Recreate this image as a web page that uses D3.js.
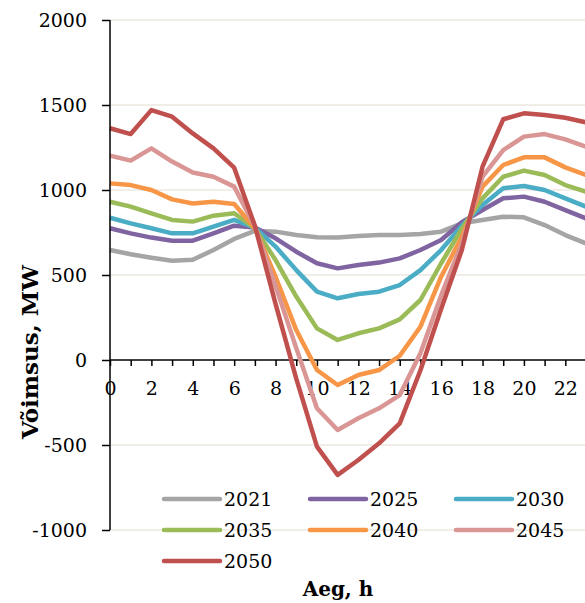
<!DOCTYPE html>
<html>
<head>
<meta charset="utf-8">
<script src="https://cdn.jsdelivr.net/npm/d3@7/dist/d3.min.js"></script>
<style>
body { margin: 0; background: #fff; }
text { font-family: "DejaVu Serif", serif; fill: #000; }
</style>
</head>
<body>
<svg id="chart" width="585" height="603"></svg>
<script>
var hours = [0,1,2,3,4,5,6,7,8,9,10,11,12,13,14,15,16,17,18,19,20,21,22,23];
var hourLabels = [0,2,4,6,8,10,12,14,16,18,20,22];
var yTicks = [-1000,-500,0,500,1000,1500,2000];

var seriesNames = ["2021","2025","2030","2035","2040","2045","2050"];
var seriesColors = ["#a5a5a5","#8064a2","#4bacc6","#9bbb59","#f79646","#d99694","#c0504d"];

var v2021 = [647,622,602,584,590,647,712,760,755,735,722,720,729,735,735,741,755,804,824,843,839,794,735,686];
var v2025 = [775,745,720,702,702,745,790,780,716,637,569,539,559,573,598,647,706,810,882,951,961,931,882,833];
var v2030 = [837,804,775,745,745,784,824,778,667,529,402,363,388,402,441,529,647,790,912,1010,1024,1000,951,902];
var v2035 = [931,902,863,824,814,849,863,775,588,373,186,118,157,186,239,353,569,772,951,1078,1114,1088,1029,990];
var v2040 = [1039,1029,1000,945,921,931,918,775,490,176,-59,-147,-88,-59,25,196,490,725,1020,1147,1192,1192,1133,1088];
var v2045 = [1202,1173,1245,1167,1103,1078,1020,785,435,70,-284,-412,-343,-284,-206,40,380,686,1078,1235,1314,1329,1298,1255];
var v2050 = [1363,1329,1470,1431,1333,1245,1131,790,330,-110,-510,-676,-588,-490,-373,-60,300,647,1137,1416,1451,1441,1425,1398];

var seriesValues = [v2021, v2025, v2030, v2035, v2040, v2045, v2050];

var margin = {left: 110, right: 586, top: 20, bottom: 530};
var gridColor = "#ebe8de";

var svg = d3.select("#chart");

// Scales ====================================================================

var xScale = d3.scaleLinear()
	.domain([0, 23])
	.range([margin.left, margin.right]);

var yScale = d3.scaleLinear()
	.domain([-1000, 2000])
	.range([margin.bottom, margin.top]);

// Grid ======================================================================

svg.append("g")
	.attr("class", "grid")
	.selectAll("line")
	.data(yTicks.filter(function(d) { return d !== 0 }))
	.enter()
	.append("line")
	.attr("x1", margin.left)
	.attr("x2", 585)
	.attr("y1", function(d) { return yScale(d) })
	.attr("y2", function(d) { return yScale(d) })
	.attr("stroke", gridColor)
	.attr("stroke-width", 1.5);

// Axes ======================================================================

var yAxis = d3.axisLeft(yScale)
	.tickValues(yTicks)
	.tickSize(8)
	.tickPadding(15)
	.tickFormat(function(d) { return String(d) });

var yG = svg.append("g")
	.attr("class", "y-axis")
	.attr("transform", "translate(" + margin.left + ",0)")
	.call(yAxis);
yG.select(".domain").remove();
yG.selectAll(".tick line").attr("stroke", "#000").attr("stroke-width", 1.5);
yG.selectAll(".tick text").attr("font-size", 19).attr("font-family", "DejaVu Serif").attr("fill", "#000");

var xAxis = d3.axisBottom(xScale)
	.tickValues(hours)
	.tickSize(6)
	.tickPadding(16)
	.tickFormat(function(d) { return hourLabels.indexOf(d) >= 0 ? d : "" });

var xG = svg.append("g")
	.attr("class", "x-axis")
	.attr("transform", "translate(0," + yScale(0) + ")")
	.call(xAxis);
xG.select(".domain").remove();
xG.selectAll(".tick line").attr("stroke", "#000").attr("stroke-width", 1.5);
xG.selectAll(".tick text").attr("font-size", 19).attr("font-family", "DejaVu Serif").attr("fill", "#000");

svg.append("line")
	.attr("x1", margin.left).attr("x2", 585)
	.attr("y1", yScale(0)).attr("y2", yScale(0))
	.attr("stroke", "#000").attr("stroke-width", 1.5);

// Lines =====================================================================

var line = d3.line()
	.x(function(d, i) { return xScale(hours[i]) })
	.y(function(d) { return yScale(d) });

svg.append("g")
	.selectAll("path")
	.data(seriesValues)
	.enter()
	.append("path")
	.attr("d", line)
	.attr("fill", "none")
	.attr("stroke", function(d, i) { return seriesColors[i] })
	.attr("stroke-width", 4.5)
	.attr("stroke-linejoin", "round");

svg.append("line")
	.attr("x1", margin.left).attr("x2", margin.left)
	.attr("y1", margin.top).attr("y2", margin.bottom)
	.attr("stroke", "#000").attr("stroke-width", 1.5);

// Legend ====================================================================

var legend = svg.append("g")
	.selectAll("g")
	.data(seriesNames)
	.enter()
	.append("g")
	.attr("transform", function(d, i) {
		return "translate(" + (164 + (i % 3) * 146) + "," + (499 + Math.floor(i / 3) * 31) + ")";
	});

legend.append("line")
	.attr("x1", 0).attr("x2", 56)
	.attr("stroke", function(d, i) { return seriesColors[i] })
	.attr("stroke-width", 4.5)
	.attr("stroke-linecap", "round");

legend.append("text")
	.attr("x", 60)
	.attr("dy", "0.35em")
	.attr("font-size", 19)
	.text(function(d) { return d });

// Titles ====================================================================

svg.append("text")
	.attr("transform", "translate(38,352) rotate(-90)")
	.attr("text-anchor", "middle")
	.attr("font-size", 23)
	.attr("font-weight", "bold")
	.text("Võimsus, MW");

svg.append("text")
	.attr("x", 338)
	.attr("y", 596)
	.attr("text-anchor", "middle")
	.attr("font-size", 20)
	.attr("font-weight", "bold")
	.text("Aeg, h");
</script>
</body>
</html>
